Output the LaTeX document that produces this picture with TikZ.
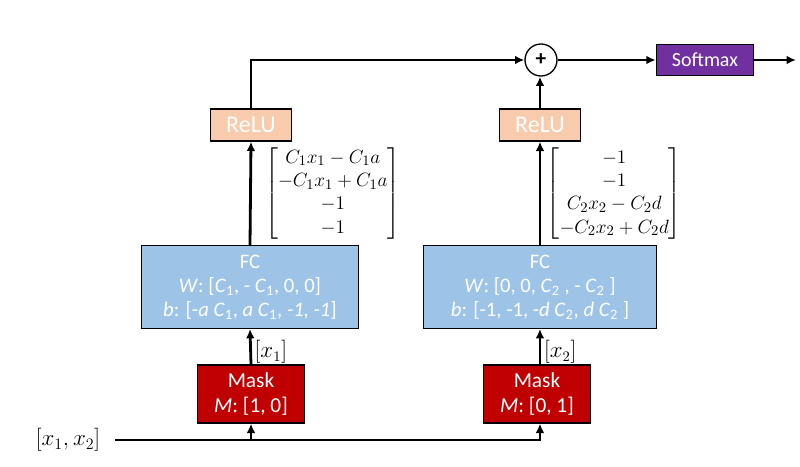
\documentclass[tikz,border=0pt]{standalone}
\usepackage{amsmath}
\usepackage{fontspec}
\setmainfont{Carlito}
\usepackage{tikz}
\usetikzlibrary{arrows.meta, positioning}
\definecolor{relupeach}{HTML}{F8CBAD}
\definecolor{fcblue}{HTML}{9DC3E6}
\definecolor{maskred}{HTML}{C00000}
\definecolor{softpurple}{HTML}{7030A0}

\begin{document}
\begin{tikzpicture}[
    x=0.75pt, y=-0.75pt,
    font=\fontsize{15}{18}\selectfont,
    box/.style={rectangle, draw=black, line width=1pt, text=white, align=center, inner sep=0pt},
    relu/.style={box, fill=relupeach, minimum width=61pt, minimum height=24pt,
                 font=\fontsize{18}{21}\selectfont},
    fc/.style={box, fill=fcblue, minimum height=62pt, font=\fontsize{15.5}{18}\selectfont},
    mask/.style={box, fill=maskred, minimum width=80pt, minimum height=43.5pt,
                 font=\fontsize{16}{19}\selectfont},
    softbox/.style={box, fill=softpurple, minimum width=73pt, minimum height=23pt,
                    font=\fontsize{15}{18}\selectfont},
    sumnode/.style={circle, draw=black, line width=1pt, fill=white, minimum size=24pt,
                    inner sep=0pt, font=\fontsize{16}{19}\selectfont\bfseries},
    arrow/.style={-{Latex[length=7pt, width=6.5pt]}, line width=2.1pt, draw=black},
    vec/.style={font=\fontsize{15}{17.5}\selectfont, inner sep=0pt},
    sizelabel/.style={font=\fontsize{16}{19}\selectfont, inner sep=2pt}
  ]
    \useasboundingbox (0,0) rectangle (800,467);

    \node[relu] (relu1) at (251,125) {ReLU};
    \node[relu] (relu2) at (540,125) {ReLU};
    \node[sumnode] (sum) at (541,60) {+};
    \node[softbox] (soft) at (705,60) {Softmax};
    \coordinate (out) at (796,60);

    \node[fc, minimum width=163pt] (fc1) at (250,287)
      {FC\\\textit{W}: [\textit{C}\textsubscript{1}, - \textit{C}\textsubscript{1}, 0, 0]\\
       \textit{b}: [-\textit{a C}\textsubscript{1}, \textit{a C}\textsubscript{1}, \textit{-1, -1}]};
    \node[fc, minimum width=175pt] (fc2) at (540,287)
      {FC\\\textit{W}: [0, 0, \textit{C}\textsubscript{2} , - \textit{C}\textsubscript{2} ]\\
       \textit{b}: [-1, -1, -\textit{d C}\textsubscript{2}, \textit{d C}\textsubscript{2} ]};

    \node[mask] (mask1) at (251,394) {Mask\\\textit{M}: [1, 0]};
    \node[mask] (mask2) at (537,394) {Mask\\\textit{M}: [0, 1]};

    \node[sizelabel, inner xsep=11pt, font=\fontsize{17}{20}\selectfont] (inp) at (68,440) {$[x_1, x_2]$};

    % input split into the two masks
    \draw[arrow] (inp.east) -| ([xshift=2.2pt]mask2.south);
    \draw[arrow] (inp.east -| mask1.south) -- (mask1.south);

    \draw[arrow] (mask1.north) -- (fc1.south)
      node[pos=0.35, right, sizelabel] {$[x_1]$};
    \draw[arrow] ([xshift=2.2pt]mask2.north) -- ([xshift=2.2pt]mask2.north |- fc2.south)
      node[pos=0.35, right, sizelabel] {$[x_2]$};

    \draw[arrow] (fc1.north) -- (relu1.south)
      node[midway, vec, right=10pt]
      {$\begin{bmatrix} C_1x_1 - C_1a \\ -C_1x_1 + C_1a \\ -1 \\ -1 \end{bmatrix}$};
    \draw[arrow] (fc2.north) -- (relu2.south)
      node[midway, vec, right=4pt]
      {$\begin{bmatrix} -1 \\ -1 \\ C_2x_2 - C_2d \\ -C_2x_2 + C_2d \end{bmatrix}$};

    \draw[arrow] (relu1.north) |- (sum.west);
    \draw[arrow] (relu2.north) -- (relu2.north |- sum.south);
    \draw[arrow] (sum.east) -- (soft.west);
    \draw[arrow] (soft.east) -- (out);
\end{tikzpicture}
\end{document}
